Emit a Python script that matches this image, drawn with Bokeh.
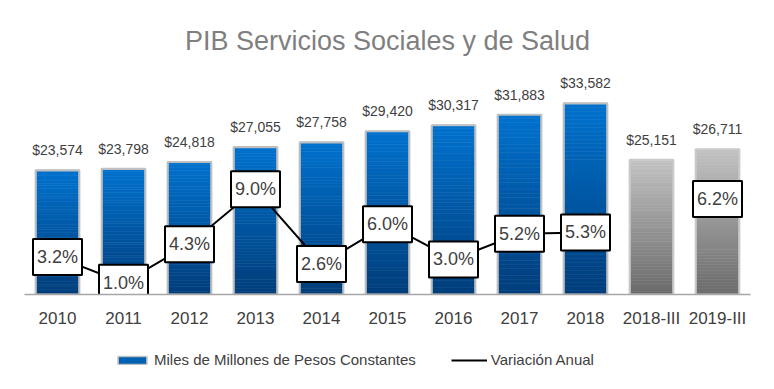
from bokeh.plotting import figure
from bokeh.layouts import column
from bokeh.models import ColumnDataSource, Range1d, FactorRange, Legend, LegendItem
from bokeh.embed import file_html
from bokeh.resources import INLINE
from bokeh.core.properties import value

# ---------------- data ----------------
categories = ["2010", "2011", "2012", "2013", "2014", "2015", "2016",
              "2017", "2018", "2018-III", "2019-III"]
pib = [23574, 23798, 24818, 27055, 27758, 29420, 30317, 31883, 33582, 25151, 26711]
variacion = [3.2, 1.0, 4.3, 9.0, 2.6, 6.0, 3.0, 5.2, 5.3, None, 6.2]

title_text = "PIB Servicios Sociales y de Salud"
bar_series_name = "Miles de Millones de Pesos Constantes"
line_series_name = "Variación Anual"

# ---------------- styling ----------------
FONT = "Liberation Sans"
Y_MIN, Y_MAX = 5000, 40000
PCT_MIN, PCT_MAX = 0, 20
BLUE_TOP, BLUE_BOT = (0, 114, 206), (0, 61, 122)
GRAY_TOP, GRAY_BOT = (194, 194, 194), (106, 106, 106)
BAR_W = 0.66
N_SLICES = 48
W = 772


def mix(c1, c2, t):
    r, g, b = (round(a + (b_ - a) * t) for a, b_ in zip(c1, c2))
    return "#%02x%02x%02x" % (r, g, b)


p = figure(width=W, height=336,
           x_range=FactorRange(*categories, range_padding=0),
           y_range=Range1d(Y_MIN, Y_MAX),
           output_backend="svg", toolbar_location=None,
           min_border_left=24, min_border_right=22,
           min_border_top=60, min_border_bottom=42)
p.extra_y_ranges = {"pct": Range1d(PCT_MIN, PCT_MAX)}
p.outline_line_color = None
p.background_fill_color = "white"
p.border_fill_color = "white"
p.xgrid.visible = False
p.ygrid.visible = False
p.yaxis.visible = False

# title
p.title.text = title_text
p.title.align = "center"
p.title.text_font = FONT
p.title.text_font_size = "27px"
p.title.text_font_style = "normal"
p.title.text_color = "#7f7f7f"

# gradient bars built from slices of each bar
sx, sb, st, sc = [], [], [], []
for cat, v in zip(categories, pib):
    quarter = "-" in cat
    top_c, bot_c = (GRAY_TOP, GRAY_BOT) if quarter else (BLUE_TOP, BLUE_BOT)
    for k in range(N_SLICES):
        b = Y_MIN + (v - Y_MIN) * k / N_SLICES
        t = Y_MIN + (v - Y_MIN) * (k + 1) / N_SLICES
        frac = 1 - (k + 0.5) / N_SLICES  # 0 at top, 1 at bottom
        sx.append(cat)
        sb.append(b)
        st.append(t)
        sc.append(mix(top_c, bot_c, frac))
slice_src = ColumnDataSource(dict(x=sx, bottom=sb, top=st, color=sc))
p.vbar(x="x", bottom="bottom", top="top", width=BAR_W, source=slice_src,
       fill_color="color", line_color="color", line_width=0.6)

bar_src = ColumnDataSource(dict(
    x=categories, top=pib,
    outline=["#cacaca" if "-" in c else "#bfbfbf" for c in categories],
    label=["${:,}".format(v) for v in pib]))
p.vbar(x="x", bottom=Y_MIN, top="top", width=BAR_W, source=bar_src,
       fill_color=None, line_color="outline", line_width=2.2)

p.text(x="x", y="top", text="label", source=bar_src, text_align="center",
       text_baseline="bottom", y_offset=-12, text_font=value(FONT),
       text_font_size="14px", text_color="#404040")

# annual variation line (secondary scale)
line_src = ColumnDataSource(dict(
    x=categories, y=[float("nan") if v is None else v for v in variacion]))
p.line(x="x", y="y", source=line_src, y_range_name="pct",
       line_color="black", line_width=2)

lx = [c for c, v in zip(categories, variacion) if v is not None]
ly = [v for v in variacion if v is not None]
loff = [-23 if "-" in c else 0 for c in lx]
lbl_src = ColumnDataSource(dict(x=lx, y=ly, yoff=loff,
                                txt=["{:.1f}%".format(v) for v in ly]))
p.text(x="x", y="y", text="txt", source=lbl_src, y_range_name="pct",
       y_offset="yoff", text_align="center", text_baseline="middle",
       text_font=value(FONT), text_font_size="18px", text_color="#404040",
       background_fill_color="white", border_line_color="black",
       border_line_width=2, padding=(4, 8))

# x axis
ax = p.xaxis[0]
ax.axis_line_color = "#a6a6a6"
ax.axis_line_width = 1.5
ax.major_tick_line_color = None
ax.minor_tick_line_color = None
ax.major_label_text_font = FONT
ax.major_label_text_font_size = "17px"
ax.major_label_text_color = "#404040"
ax.major_label_standoff = 8

# legend strip (separate small figure below the chart)
lg = figure(width=W, height=46,
            x_range=FactorRange(*categories, range_padding=0),
            y_range=Range1d(Y_MIN, Y_MAX),
            output_backend="svg", toolbar_location=None,
            x_axis_type=None, y_axis_type=None, min_border=0)
lg.outline_line_color = None
lg.xgrid.visible = False
lg.ygrid.visible = False
# hidden renderers that only provide the legend swatches
leg_bar = lg.vbar(x="x", bottom=Y_MIN, top="top", width=BAR_W, source=bar_src,
                  fill_color="#0061b2", line_color="#bfbfbf", line_width=1.5,
                  visible=False)
leg_line = lg.line(x="x", y="top", source=bar_src, line_color="black",
                   line_width=2, visible=False)
legend = Legend(items=[
    LegendItem(label=bar_series_name, renderers=[leg_bar]),
    LegendItem(label=line_series_name, renderers=[leg_line]),
], orientation="horizontal", location=(90, 14), padding=0, margin=0,
   spacing=35, glyph_width=36, glyph_height=10, label_standoff=4,
   label_text_font=FONT, label_text_font_size="15px", label_text_color="#404040",
   border_line_color=None, background_fill_alpha=0,
   inactive_fill_alpha=0)
lg.add_layout(legend, "center")

layout = column(p, lg, spacing=0)
open("out.html", "w").write(file_html(layout, INLINE))
